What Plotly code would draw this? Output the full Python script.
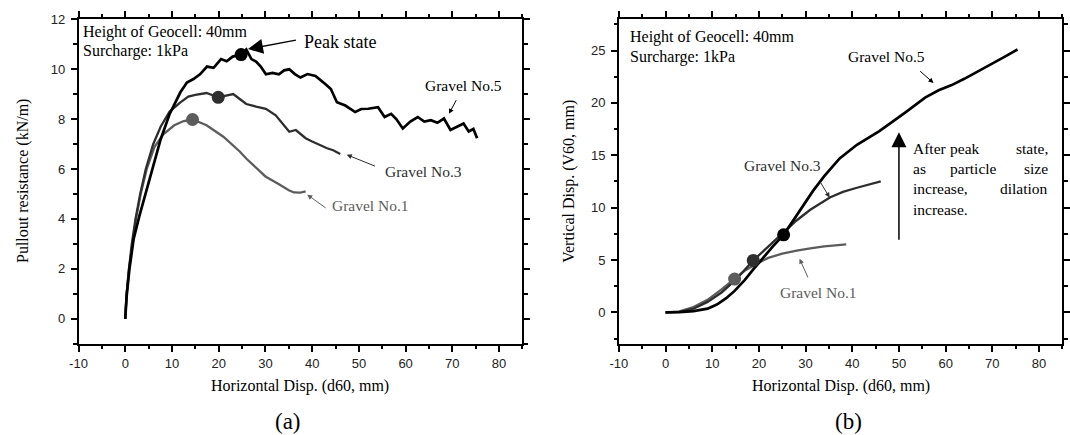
import plotly.graph_objects as go

# ---------------- data ----------------
# Panel (a): pullout resistance vs horizontal displacement
a5_x = [0, 0.3, 0.9, 1.8, 3.0, 4.3, 5.8, 7.6, 9.5, 11.8, 13.2, 14.6, 16.0, 17.5, 18.9, 20.5, 21.7, 23.0, 24.8,
        25.9, 27.0, 28.0, 29.0, 30.1, 31.5, 32.9, 34.0, 35.1, 36.3, 37.5, 39.0, 40.7, 42.8, 44.0, 45.3, 47.1,
        49.2, 50.5, 52.0, 54.1, 55.5, 56.9, 58.0, 59.4, 61.0, 62.6, 64.0, 65.4, 66.8, 68.2, 69.6, 71.0, 72.4,
        73.5, 74.5, 75.3]
a5_y = [0, 0.9, 2.0, 3.2, 4.1, 5.0, 6.0, 7.2, 8.2, 9.07, 9.46, 9.6, 9.79, 10.1, 10.05, 10.4, 10.31, 10.5, 10.58,
        10.78, 10.4, 10.3, 10.1, 9.79, 9.85, 9.79, 9.95, 9.99, 9.8, 9.66, 9.8, 9.72, 9.4, 9.2, 8.67, 8.54,
        8.28, 8.4, 8.41, 8.47, 8.08, 8.21, 8.0, 7.62, 7.9, 8.08, 7.9, 7.95, 7.85, 8.02, 7.56, 7.7, 7.82,
        7.5, 7.6, 7.23]
a3_x = [0, 0.3, 0.8, 1.4, 2.2, 3.2, 4.4, 6.0, 7.6, 9.5, 11.8, 13.5, 15.0, 17.4, 19.9, 21.5, 23.1, 24.5, 25.9,
        28.0, 30.1, 32.2, 33.5, 35.1, 36.5, 38.6, 40.0, 41.4, 43.2, 44.5, 46.0]
a3_y = [0, 1.0, 2.0, 3.0, 4.0, 5.0, 6.0, 7.0, 7.7, 8.3, 8.67, 8.9, 8.97, 9.04, 8.87, 8.95, 9.0, 8.8, 8.6,
        8.5, 8.41, 8.15, 7.85, 7.49, 7.56, 7.23, 7.1, 6.97, 6.83, 6.75, 6.6]
a1_x = [0, 0.3, 0.8, 1.5, 2.3, 3.3, 4.6, 6.3, 8.2, 10.5, 12.5, 14.4, 17.4, 21.0, 24.5, 26.0, 28.7, 30.0, 32.9,
        35.0, 36.1, 37.5, 38.6]
a1_y = [0, 1.0, 2.0, 3.0, 4.0, 5.0, 6.0, 6.9, 7.4, 7.75, 7.92, 7.98, 7.75, 7.29, 6.7, 6.4, 5.9, 5.7, 5.39,
        5.15, 5.06, 5.05, 5.1]
a_peak_x = [14.4, 19.9, 24.8]
a_peak_y = [7.98, 8.87, 10.58]

# Panel (b): vertical vs horizontal displacement
b5_x = [0, 3, 6, 9, 11, 13, 14.8, 17, 18.8, 21, 23, 25.3, 27, 29.5, 31.6, 34, 37.3, 41, 45.8, 51.4, 55.6,
        58.5, 61.3, 64, 66.9, 70, 72.6, 75.4]
b5_y = [0, 0.02, 0.12, 0.35, 0.75, 1.35, 2.05, 3.1, 4.1, 5.3, 6.3, 7.4, 8.5, 10.2, 11.6, 13.0, 14.7, 16.0,
        17.3, 19.1, 20.5, 21.2, 21.7, 22.3, 23.0, 23.7, 24.4, 25.1]
b3_x = [0, 3, 6, 9, 12, 15, 18.8, 22, 25.3, 28, 31, 35.2, 38, 41, 46.1]
b3_y = [0, 0.05, 0.35, 1.0, 1.9, 3.1, 4.96, 6.3, 7.6, 8.75, 9.8, 10.97, 11.5, 11.9, 12.5]
b1_x = [0, 3, 6, 9, 12, 14.8, 17, 20, 22, 25, 28.1, 31, 34, 38.7]
b1_y = [0, 0.1, 0.5, 1.2, 2.2, 3.2, 4.0, 4.75, 5.2, 5.6, 5.9, 6.1, 6.3, 6.5]
b_peak_x = [14.8, 18.8, 25.3]
b_peak_y = [3.18, 4.96, 7.4]

x_ticks = [-10, 0, 10, 20, 30, 40, 50, 60, 70, 80]
ya_ticks = [0, 2, 4, 6, 8, 10, 12]
yb_ticks = [0, 5, 10, 15, 20, 25]

c5, c3, c1 = "#000000", "#2e2e2e", "#5c5c5c"
peak_colors = [c1, c3, c5]

SERIF = "Liberation Serif"
SANS = "Liberation Sans"

fig = go.Figure()

def add_line(x, y, color, width, xa, ya):
    fig.add_trace(go.Scatter(x=x, y=y, mode="lines", line=dict(color=color, width=width),
                             xaxis=xa, yaxis=ya, showlegend=False, hoverinfo="skip"))

add_line(a1_x, a1_y, c1, 2.3, "x", "y")
add_line(a3_x, a3_y, c3, 2.3, "x", "y")
add_line(a5_x, a5_y, c5, 2.7, "x", "y")
fig.add_trace(go.Scatter(x=a_peak_x, y=a_peak_y, mode="markers",
                         marker=dict(size=13, color=peak_colors), xaxis="x", yaxis="y",
                         showlegend=False, hoverinfo="skip"))

add_line(b1_x, b1_y, c1, 2.3, "x2", "y2")
add_line(b3_x, b3_y, c3, 2.3, "x2", "y2")
add_line(b5_x, b5_y, c5, 2.7, "x2", "y2")
fig.add_trace(go.Scatter(x=b_peak_x, y=b_peak_y, mode="markers",
                         marker=dict(size=13, color=peak_colors), xaxis="x2", yaxis="y2",
                         showlegend=False, hoverinfo="skip"))

def axis_style(rng, minor, domain, anchor, tickvals, standoff):
    return dict(range=rng, domain=domain, anchor=anchor, showgrid=False, zeroline=False,
                showline=True, linecolor="black", linewidth=1.5, mirror="ticks",
                ticks="outside", ticklen=6, tickwidth=1.5, tickcolor="black",
                tickmode="array", tickvals=tickvals, ticktext=[str(v) for v in tickvals],
                ticklabelstandoff=standoff,
                tickfont=dict(family=SANS, size=13, color="#222"),
                minor=dict(ticks="outside", ticklen=3.5, tickwidth=1.5, tickcolor="black", dtick=minor,
                           tick0=0, showgrid=False))

ydom = [0.2131, 0.9717]
fig.update_layout(
    width=1070, height=435, margin=dict(l=0, r=0, t=0, b=0),
    paper_bgcolor="white", plot_bgcolor="white",
    xaxis=axis_style([-10, 85], 5, [0.0657, 0.4853], "y", x_ticks, 1),
    yaxis=axis_style([-1, 12], 1, ydom, "x", ya_ticks, 3),
    xaxis2=axis_style([-10, 85], 5, [0.5764, 0.9956], "y2", x_ticks, 1),
    yaxis2=axis_style([-3, 28], 2.5, ydom, "x2", yb_ticks, 3),
)

ann = []

def text(x, y, t, size, color="black", xref="x", yref="y", xanchor="center", yanchor="middle", angle=0,
         family=SERIF):
    ann.append(dict(x=x, y=y, xref=xref, yref=yref, text=t, showarrow=False, xanchor=xanchor,
                    yanchor=yanchor, textangle=angle, borderpad=0,
                    font=dict(family=family, size=size, color=color)))

def arrow(x, y, ax, ay, xref, yref, color="black", head=2, size=1.0, width=1.0):
    ann.append(dict(x=x, y=y, ax=ax, ay=ay, xref=xref, yref=yref, axref=xref, ayref=yref, text="",
                    showarrow=True, arrowhead=head, arrowsize=size, arrowwidth=width, arrowcolor=color))

# axis titles and panel labels
text(294.8 / 1070, 1 - 385 / 435, "Horizontal Disp. (d60, mm)", 16, xref="paper", yref="paper")
text(841 / 1070, 1 - 385 / 435, "Horizontal Disp. (d60, mm)", 16, xref="paper", yref="paper")
text(14 / 1070, 1 - 177 / 435, "Pullout resistance (kN/m)", 16, xref="paper", yref="paper", angle=-90)
text(566 / 1070, 1 - 177 / 435, "Vertical Disp. (V60, mm)", 16, xref="paper", yref="paper", angle=-90)
text(281.7 / 1070, 1 - 421.5 / 435, "(a)", 23, xref="paper", yref="paper")
text(849 / 1070, 1 - 421.5 / 435, "(b)", 23, xref="paper", yref="paper")

# panel (a) annotations
text(-9.2, 11.5, "Height of Geocell: 40mm", 16, xanchor="left")
text(-9.2, 10.71, "Surcharge: 1kPa", 16, xanchor="left")
text(38.0, 11.1, "Peak state", 18, xanchor="left")
arrow(26.26, 10.8, 36.84, 11.17, "x", "y", head=2, size=2.0, width=1.5)
text(72.3, 9.33, "Gravel No.5", 15.5, color=c5)
arrow(69.27, 8.21, 71.0, 8.81, "x", "y", color=c5)
text(63.8, 5.91, "Gravel No.3", 15.5, color=c3)
arrow(47.4, 6.57, 53.76, 6.09, "x", "y", color=c3)
text(52.5, 4.53, "Gravel No.1", 15.5, color=c1)
arrow(38.95, 4.97, 43.2, 4.40, "x", "y", color=c1)

# panel (b) annotations
text(-7.76, 26.34, "Height of Geocell: 40mm", 16, xref="x2", yref="y2", xanchor="left")
text(-7.76, 24.4, "Surcharge: 1kPa", 16, xref="x2", yref="y2", xanchor="left")
text(47.35, 24.4, "Gravel No.5", 15.5, color=c5, xref="x2", yref="y2")
arrow(57.4, 21.9, 54.23, 23.15, "x2", "y2", color=c5)
text(25.15, 14.02, "Gravel No.3", 15.5, color=c3, xref="x2", yref="y2")
arrow(35.15, 10.97, 33.05, 12.52, "x2", "y2", color=c3)
text(32.84, 1.86, "Gravel No.1", 15.5, color=c1, xref="x2", yref="y2")
arrow(28.71, 5.12, 30.64, 3.21, "x2", "y2", color=c1)
arrow(50.0, 17.2, 50.0, 6.8, "x2", "y2", head=2, size=2.0, width=1.5)

# justified paragraph, word by word
PF = 15.5
L, R = 52.81, 82.12
text(L, 15.65, "After", PF, xref="x2", yref="y2", xanchor="left")
text(64.2, 15.65, "peak", PF, xref="x2", yref="y2")
text(R, 15.65, "state,", PF, xref="x2", yref="y2", xanchor="right")
text(L, 13.78, "as", PF, xref="x2", yref="y2", xanchor="left")
text(66.0, 13.78, "particle", PF, xref="x2", yref="y2")
text(R, 13.78, "size", PF, xref="x2", yref="y2", xanchor="right")
text(L, 11.86, "increase,", PF, xref="x2", yref="y2", xanchor="left")
text(R, 11.86, "dilation", PF, xref="x2", yref="y2", xanchor="right")
text(L, 9.87, "increase.", PF, xref="x2", yref="y2", xanchor="left")

fig.update_layout(annotations=ann)
fig.write_html("out.html")
